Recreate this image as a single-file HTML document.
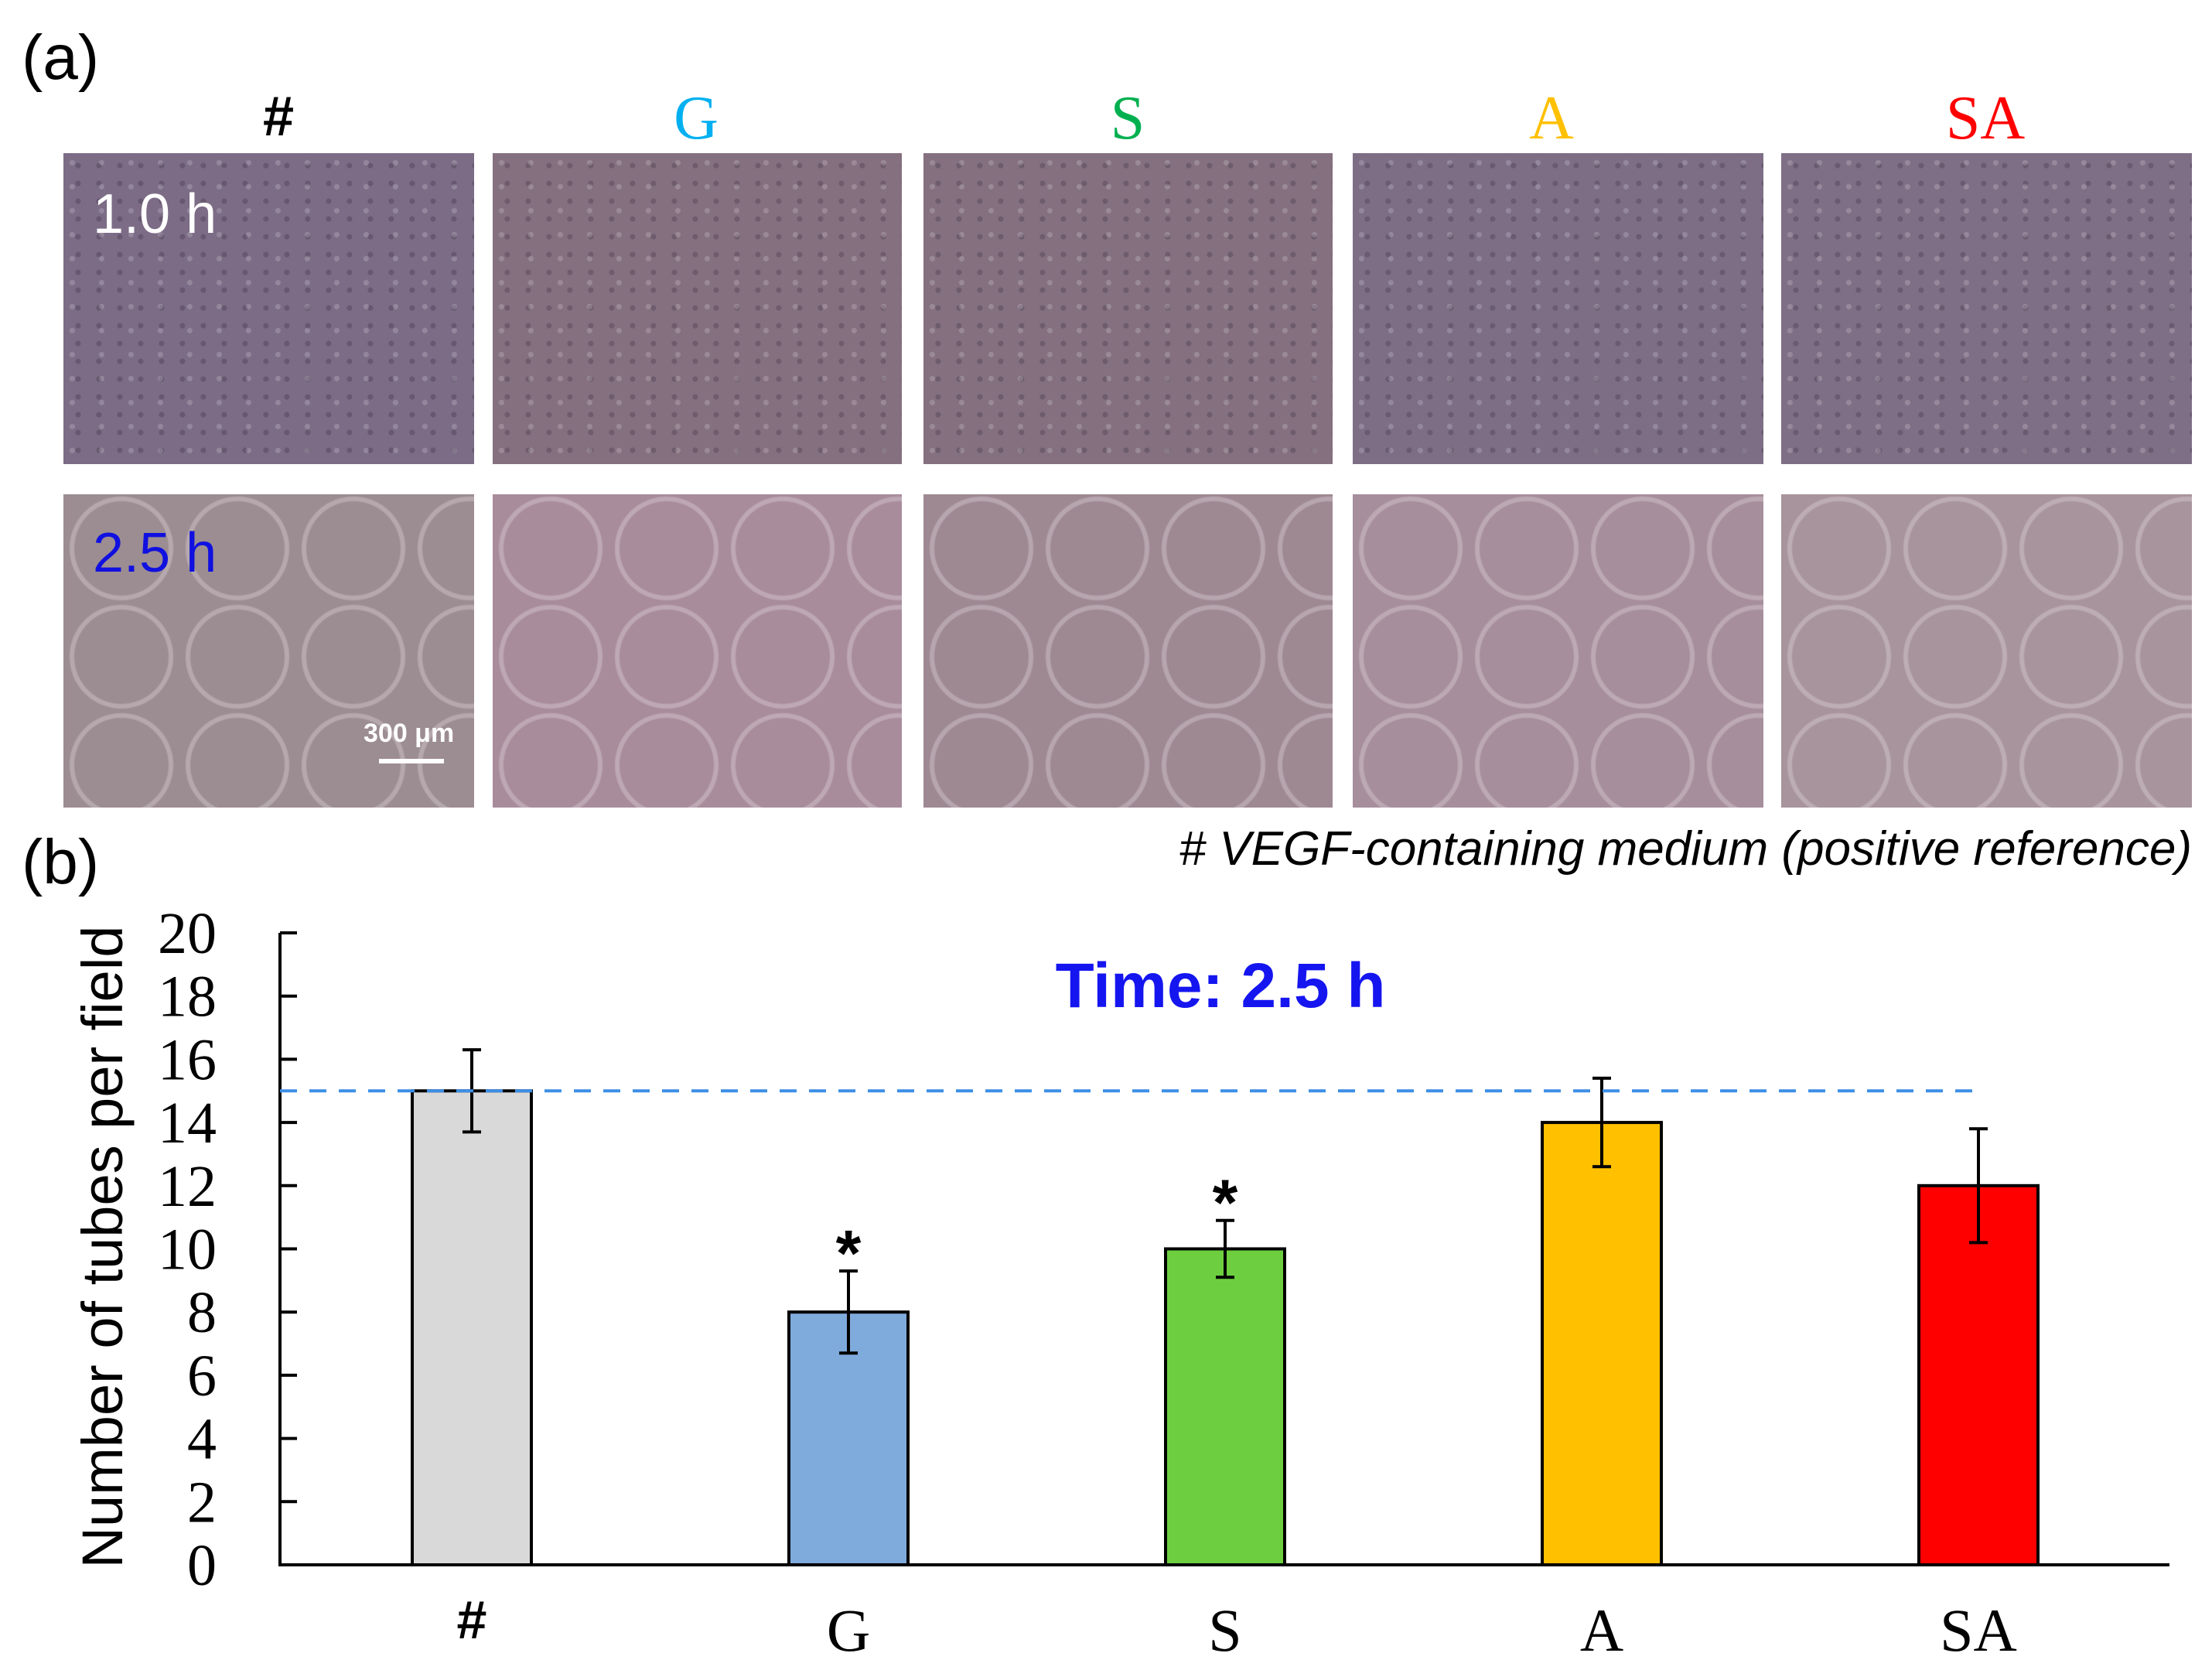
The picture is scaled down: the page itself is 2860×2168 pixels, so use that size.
<!DOCTYPE html>
<html><head><meta charset="utf-8">
<style>
html,body{margin:0;padding:0;background:#fff;}
body{width:2860px;height:2168px;position:relative;overflow:hidden;font-family:"Liberation Sans",sans-serif;}
.lbl{position:absolute;}
.cell{position:absolute;overflow:hidden;}
.r1{background:radial-gradient(circle at 30% 40%,rgba(255,255,255,0.18) 0 3px,transparent 4px) 0 0/38px 31px,radial-gradient(circle at 70% 70%,rgba(40,30,50,0.25) 0 3px,transparent 4px) 0 0/27px 23px,#7c6c86;}
.r2{background:radial-gradient(circle at 50% 50%,transparent 0 60px,rgba(230,220,225,0.35) 62px 66px,transparent 68px) 0 0/150px 140px,#a08c9c;}
</style></head>
<body>
<div class="lbl" style="left:28px;top:28px;font-size:82px;">(a)</div>
<div class="lbl" style="left:330px;top:110px;width:60px;text-align:center;font-size:72px;font-weight:bold;">#</div>
<div class="lbl" style="left:850px;top:108px;width:100px;text-align:center;font-family:'Liberation Serif',serif;font-size:80px;color:#00b0f0;">G</div>
<div class="lbl" style="left:1408px;top:108px;width:100px;text-align:center;font-family:'Liberation Serif',serif;font-size:80px;color:#00b050;">S</div>
<div class="lbl" style="left:1956px;top:108px;width:100px;text-align:center;font-family:'Liberation Serif',serif;font-size:80px;color:#ffc000;">A</div>
<div class="lbl" style="left:2467px;top:108px;width:200px;text-align:center;font-family:'Liberation Serif',serif;font-size:80px;color:#ff0000;">SA</div>

<div class="cell r1" style="left:82px;top:198px;width:531px;height:402px;"><div style="position:absolute;left:38px;top:38px;color:#fff;font-size:72px;">1.0 h</div></div>
<div class="cell r1" style="left:637px;top:198px;width:529px;height:402px;background-color:#85707f;"></div>
<div class="cell r1" style="left:1194px;top:198px;width:529px;height:402px;background-color:#84707f;"></div>
<div class="cell r1" style="left:1749px;top:198px;width:531px;height:402px;background-color:#7d6e86;"></div>
<div class="cell r1" style="left:2303px;top:198px;width:531px;height:402px;background-color:#7f6f86;"></div>

<div class="cell r2" style="left:82px;top:639px;width:531px;height:405px;background-color:#9c8d92;"><div style="position:absolute;left:38px;top:35px;color:#1010e0;font-size:72px;">2.5 h</div><div style="position:absolute;left:388px;top:290px;color:#fff;font-size:34px;font-weight:bold;">300 μm</div><div style="position:absolute;left:408px;top:342px;width:84px;height:6px;background:#fff;"></div></div>
<div class="cell r2" style="left:637px;top:639px;width:529px;height:405px;background-color:#a88c9c;"></div>
<div class="cell r2" style="left:1194px;top:639px;width:529px;height:405px;background-color:#9e8993;"></div>
<div class="cell r2" style="left:1749px;top:639px;width:531px;height:405px;background-color:#a68e9c;"></div>
<div class="cell r2" style="left:2303px;top:639px;width:531px;height:405px;background-color:#a8949c;"></div>

<div class="lbl" style="left:28px;top:1068px;font-size:82px;">(b)</div>
<div class="lbl" style="right:26px;top:1062px;font-size:62px;font-style:italic;white-space:nowrap;"># VEGF-containing medium (positive reference)</div>

<svg id="chart" width="2860" height="2168" style="position:absolute;left:0;top:0;" xmlns="http://www.w3.org/2000/svg"></svg>
<script>
const categories = ["#","G","S","A","SA"];
const values = [15,8,10,14,12];
const errors = [1.3,1.3,0.9,1.4,1.8];
const significant = [false,true,true,false,false];
const colors = ["#d9d9d9","#7faadc","#6dcf3f","#ffc000","#ff0000"];
const yTicks = [0,2,4,6,8,10,12,14,16,18,20];
const referenceValue = 15;

const svg = document.getElementById('chart');
const NS = 'http://www.w3.org/2000/svg';
const x0 = 362, x1 = 2805, yTop = 1206, yBot = 2023, yMax = 20;
const yS = v => yBot - (v / yMax) * (yBot - yTop);
const firstC = 610, step = 487, barW = 154;
const xS = i => firstC + i * step;
function mk(tag, attrs, parent){const e=document.createElementNS(NS,tag);for(const k in attrs)e.setAttribute(k,attrs[k]);(parent||svg).appendChild(e);return e;}

let ax = mk('line',{x1:x0,y1:yTop,x2:x0,y2:yBot,stroke:'#000','stroke-width':4});


let axx = mk('line',{x1:x0-2,y1:yBot,x2:x1,y2:yBot,stroke:'#000','stroke-width':4});


yTicks.forEach(t=>{
  const y=yS(t);
  const tk=mk('line',{x1:x0,y1:y,x2:x0+22,y2:y,stroke:'#000','stroke-width':4});
  
  
  const tx=mk('text',{x:x0-82,y:y+26,'text-anchor':'end','font-family':'Liberation Serif, serif','font-size':76});
  tx.textContent=t;
  
  
});
const yt=mk('text',{x:0,y:0,transform:'translate(158,1612) rotate(-90)','text-anchor':'middle','font-family':'Liberation Sans, sans-serif','font-size':74});
yt.textContent='Number of tubes per field';



categories.forEach((c,i)=>{
  const cx=xS(i), v=values[i];
  const r=mk('rect',{x:cx-barW/2,y:yS(v),width:barW,height:yBot-yS(v),fill:colors[i],stroke:'#000','stroke-width':4});
  
  
  const g=mk('g',{stroke:'#000','stroke-width':4});
  
  
  mk('line',{x1:cx,y1:yS(v+errors[i]),x2:cx,y2:yS(v-errors[i])},g);
  mk('line',{x1:cx-12,y1:yS(v+errors[i]),x2:cx+12,y2:yS(v+errors[i])},g);
  mk('line',{x1:cx-12,y1:yS(v-errors[i]),x2:cx+12,y2:yS(v-errors[i])},g);
  if(significant[i]){
    const s=mk('text',{x:cx,y:yS(v+errors[i])+6,'text-anchor':'middle','font-family':'Liberation Sans, sans-serif','font-size':84,'font-weight':'bold'});
    s.textContent='*';
    
    
  }
  const xl=mk('text',{x:cx,y:c==='#'?2118:2134,'text-anchor':'middle','font-family':c==='#'?'Liberation Sans, sans-serif':'Liberation Serif, serif','font-size':c==='#'?70:78,'font-weight':c==='#'?'bold':'normal'});
  xl.textContent=c;
  
  
});
const ref=mk('line',{x1:x0,y1:yS(referenceValue),x2:2563,y2:yS(referenceValue),stroke:'#3d8fe6','stroke-width':4,'stroke-dasharray':'22 16'});


const title=mk('text',{x:1578,y:1302,'text-anchor':'middle','font-family':'Liberation Sans, sans-serif','font-size':82,'font-weight':'bold',fill:'#1515f0'});
title.textContent='Time: 2.5 h';


</script>
</body></html>
